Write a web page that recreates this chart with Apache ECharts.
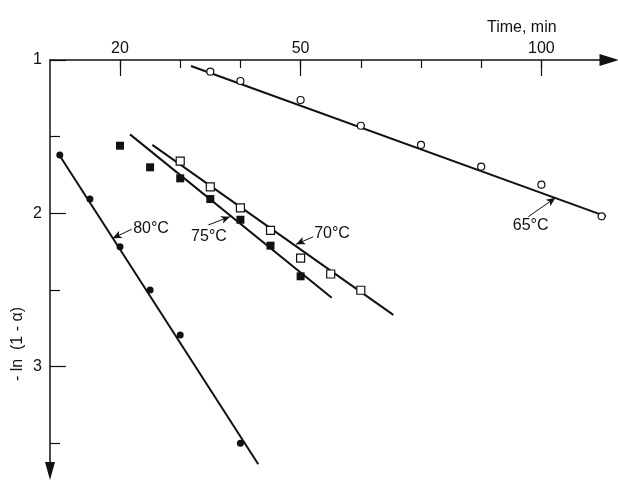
<!DOCTYPE html>
<html>
<head>
<meta charset="utf-8">
<script src="https://cdn.jsdelivr.net/npm/echarts@6/dist/echarts.min.js"></script>
<style>html,body{margin:0;padding:0;background:#fff}#c{width:618px;height:484px}</style>
</head>
<body>
<div id="c"></div>
<script>
// x values are positions along the drawn time axis, in tick steps (tick 0 is labelled "20")
const xTickPos = [0, 1, 2, 3, 4, 5, 6, 7];
const xLabelPos = [0, 3, 7];
const xLabels = ['20', '50', '100'];
const yMajor = [1, 2, 3];
const yMinor = [1.5, 2.5, 3.5];
const yLabels = ['1', '2', '3'];

const p65 = [[1.5,1.076],[2,1.137],[3,1.261],[4,1.429],[5,1.554],[6,1.696],[7,1.813],[8,2.02]];
const p70 = [[1,1.659],[1.5,1.828],[2,1.965],[2.5,2.111],[3,2.292],[3.5,2.396],[4,2.502]];
const p75 = [[0,1.559],[0.5,1.70],[1,1.772],[1.5,1.907],[2,2.042],[2.5,2.211],[3,2.411]];
const p80 = [[-1,1.62],[-0.5,1.907],[0,2.218],[0.5,2.50],[1,2.794],[2,3.50]];

const f65 = [[1.179,1.039],[8.073,2.02]];
const f70 = [[0.537,1.554],[4.54,2.663]];
const f75 = [[0.166,1.485],[3.517,2.551]];
const f80 = [[-1.03,1.607],[2.297,3.637]];

const tempLabels = [['80\u00b0C',0.515,2.102],['75\u00b0C',1.478,2.151],['70\u00b0C',3.522,2.133],['65\u00b0C',6.822,2.083]];
const a80 = [[0.194,2.104],[-0.121,2.163]];
const a75 = [[1.467,2.076],[1.827,2.022]];
const a70 = [[3.211,2.153],[2.924,2.202]];
const a65 = [[6.782,2.022],[7.234,1.899]];

const FONT = 'Liberation Sans';
const INK = '#111';
const xMin = -1.163, xMax = 8.123, yMin = 1, yMax = 3.681;
const axisLineStyle = {color:INK, width:1.5};

function lookup(vals, labels, v){
  for (let i=0;i<vals.length;i++) if (Math.abs(vals[i]-v)<1e-6) return labels[i];
  return '';
}
function arrow(a){
  return {
    silent:true, symbol:['none','arrow'], symbolSize:[6,9],
    lineStyle:{color:INK, width:1, type:'solid', opacity:1},
    itemStyle:{color:INK},
    label:{show:false}, emphasis:{disabled:true},
    data:[[{coord:a[0]},{coord:a[1]}]]
  };
}
function fit(data, a){
  return {type:'line', data:data, symbol:'none', lineStyle:{color:INK, width:2}, z:2, markLine:arrow(a)};
}
function pts(data, symbol, filled, size){
  return {type:'scatter', data:data, symbol:symbol, symbolSize:size, z:3,
    itemStyle:{opacity:1, color: filled ? INK : '#fff', borderColor:INK, borderWidth: filled ? 0 : 1.2}};
}

const chart = echarts.init(document.getElementById('c'));
chart.setOption({
  animation:false,
  backgroundColor:'#fff',
  title:{text:'Time, min', left:482, top:15, textStyle:{fontFamily:FONT, fontSize:16, fontWeight:'normal', color:INK}},
  grid:{left:50, right:9, top:60, bottom:13},
  xAxis:[
    {type:'value', position:'top', min:xMin, max:xMax,
      axisLine:{show:true, onZero:false, symbol:['none','triangle'], symbolSize:[12,19], lineStyle:axisLineStyle},
      axisTick:{show:true, inside:true, length:8, customValues:xTickPos, lineStyle:{color:INK, width:1.2}},
      axisLabel:{show:false}, splitLine:{show:false}},
    {type:'value', position:'top', min:xMin, max:xMax,
      axisLine:{show:false, onZero:false},
      axisTick:{show:true, inside:true, length:16, customValues:xLabelPos, lineStyle:{color:INK, width:1.2}},
      axisLabel:{show:true, customValues:xLabelPos, margin:3, formatter:v=>lookup(xLabelPos,xLabels,v),
        fontFamily:FONT, fontSize:16, color:INK},
      splitLine:{show:false}}
  ],
  yAxis:[
    {type:'value', position:'left', inverse:true, min:yMin, max:yMax,
      axisLine:{show:true, onZero:false, symbol:['triangle','none'], symbolSize:[10,18], lineStyle:axisLineStyle},
      axisTick:{show:true, inside:true, length:10, customValues:yMinor, lineStyle:{color:INK, width:1.2}},
      axisLabel:{show:false}, splitLine:{show:false}},
    {type:'value', position:'left', inverse:true, min:yMin, max:yMax,
      axisLine:{show:false, onZero:false},
      axisTick:{show:true, inside:true, length:16, customValues:yMajor, lineStyle:{color:INK, width:1.2}},
      axisLabel:{show:true, customValues:yMajor, margin:8, formatter:v=>lookup(yMajor,yLabels,v),
        fontFamily:FONT, fontSize:16, color:INK},
      splitLine:{show:false}}
  ],
  graphic:[{type:'text', x:18, y:344, rotation:Math.PI/2,
    style:{text:'- ln  (1 - \u03b1)', fontFamily:FONT, fontSize:16, fill:INK, textAlign:'center', textVerticalAlign:'middle'}}],
  series:[
    fit(f65, a65), fit(f70, a70), fit(f75, a75), fit(f80, a80),
    pts(p65,'circle',false,7), pts(p70,'rect',false,8), pts(p75,'rect',true,8), pts(p80,'circle',true,7),
    {type:'scatter', symbolSize:0, itemStyle:{color:INK, opacity:1}, z:4,
      data:tempLabels.map(d=>({value:[d[1],d[2]], name:d[0]})),
      label:{show:true, position:'inside', formatter:p=>p.name, fontFamily:FONT, fontSize:16,
        color:INK, opacity:1, textBorderWidth:0, textBorderColor:'transparent'}}
  ]
});
</script>
</body>
</html>
